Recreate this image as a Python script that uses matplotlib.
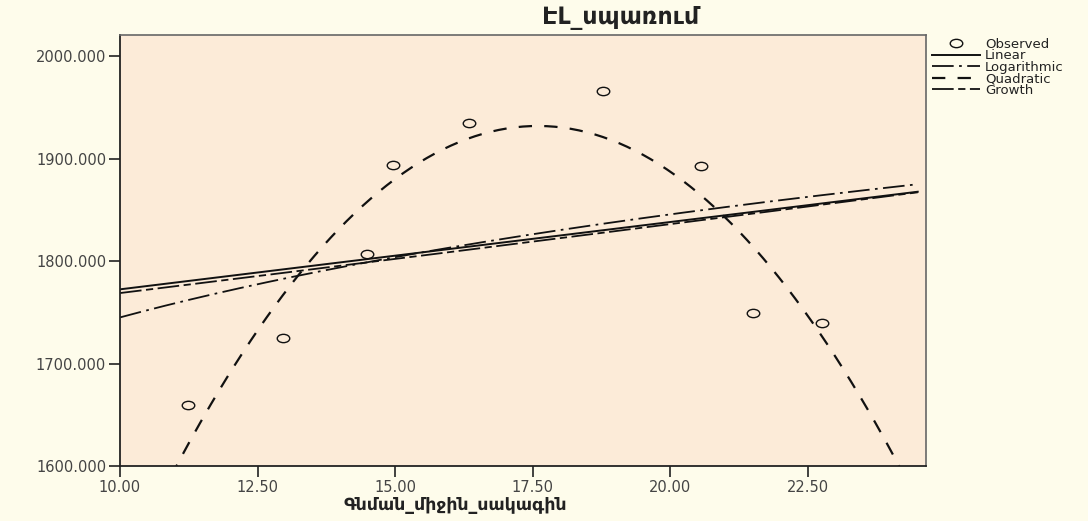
import numpy as np
import matplotlib.pyplot as plt
from matplotlib.path import Path

# observed points
price = [11.24, 12.96, 14.49, 14.96, 16.35, 18.78, 20.56, 21.51, 22.76]
consumption = [1660, 1725, 1807, 1894, 1935, 1966, 1893, 1749, 1740]

y_ticks = [1600, 1700, 1800, 1900, 2000]
x_ticks = [10.0, 12.5, 15.0, 17.5, 20.0, 22.5]
legend_names = ['Observed', 'Linear', 'Logarithmic', 'Quadratic', 'Growth']

fig_bg = '#FEFCEB'
ax_bg = '#FCEBD8'


def main():
    x = np.array(price)
    y = np.array(consumption)

    # curve estimation models (same as spss curvefit)
    lin = np.polyfit(x, y, 1)
    logc = np.polyfit(np.log(x), y, 1)
    quad = np.polyfit(x, y, 2)
    grow = np.polyfit(x, np.log(y), 1)

    xs = np.linspace(10.0, 24.5, 300)

    # the reference circles look squashed, so use a wide ellipse marker
    circ = Path.unit_circle()
    ellipse = Path(circ.vertices * np.array([1.5, 1.0]), circ.codes)

    fig = plt.figure(figsize=(10.88, 5.21), dpi=100, facecolor=fig_bg)
    ax = fig.add_axes([120 / 1088, 55 / 521, 806 / 1088, 431 / 521])
    ax.set_facecolor(ax_bg)

    ax.plot(x, y, linestyle='none', marker=ellipse, ms=9, mfc='none', mec='#111111',
            mew=1.0, label=legend_names[0])
    ax.plot(xs, np.polyval(lin, xs), '-', color='#111111', lw=1.4, label=legend_names[1])
    ax.plot(xs, np.polyval(logc, np.log(xs)), color='#111111', lw=1.3,
            dashes=(12, 3, 1.5, 3), label=legend_names[2])
    ax.plot(xs, np.polyval(quad, xs), color='#111111', lw=1.6,
            dashes=(6, 5.5), label=legend_names[3])
    ax.plot(xs, np.exp(np.polyval(grow, xs)), color='#111111', lw=1.3,
            dashes=(12, 2.5, 4, 2.5), label=legend_names[4])

    ax.set_xlim(10.0, 24.65)
    ax.set_ylim(1600, 2020.5)
    ax.set_xticks(x_ticks)
    ax.set_xticklabels(['%.2f' % t for t in x_ticks])
    ax.set_yticks(y_ticks)
    ax.set_yticklabels(['%.3f' % t for t in y_ticks])
    ax.tick_params(direction='out', length=8, width=1.2, labelsize=10.5,
                   colors='#222222', labelcolor='#444444', pad=2)
    for side in ['left', 'bottom']:
        ax.spines[side].set_color('#222222')
        ax.spines[side].set_linewidth(1.3)
    for side in ['top', 'right']:
        ax.spines[side].set_color('#666666')
        ax.spines[side].set_linewidth(1.2)

    fig.text(621 / 1088, 1 - 18 / 521, 'ԷԼ_սպառում', ha='center', va='center',
             fontsize=17, fontweight='bold', color='#222222')
    fig.text(455 / 1088, 1 - 505 / 521, 'Գնման_միջին_սակագին', ha='center', va='center',
             fontsize=12.5, fontweight='bold', color='#222222')

    ax.legend(loc='upper left', bbox_to_anchor=(932 / 1088, 1 - 38 / 521),
              bbox_transform=fig.transFigure, frameon=False, fontsize=9.5,
              handlelength=3.6, handletextpad=0.4, labelspacing=-0.12,
              borderaxespad=0, borderpad=0, markerscale=1.0,
              labelcolor='#222222')

    fig.savefig('out.png', dpi=100, facecolor=fig_bg)


if __name__ == "__main__":
    main()
